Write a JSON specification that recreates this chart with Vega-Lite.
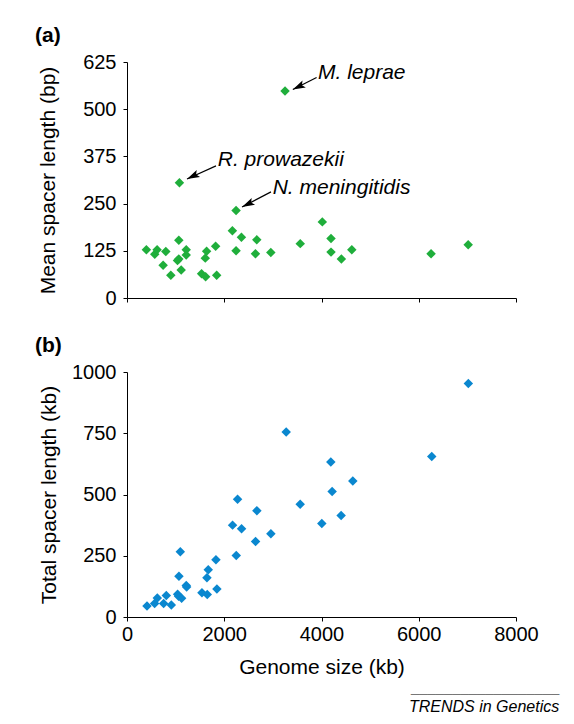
{
  "$schema": "https://vega.github.io/schema/vega-lite/v6.json",
  "background": "white",
  "padding": {"left": 35, "top": 25, "right": 5, "bottom": 5},
  "config": {
    "font": "Liberation Sans",
    "view": {"stroke": null},
    "axis": {"domainColor": "black", "tickColor": "black", "labelColor": "black", "titleColor": "black", "labelFont": "Liberation Sans", "titleFont": "Liberation Sans", "labelFontSize": 20, "titleFontSize": 21, "titleFontWeight": "normal", "tickSize": 4, "grid": false, "domainWidth": 1, "tickWidth": 1, "labelFlush": false, "format": "d"},
    "title": {"font": "Liberation Sans", "color": "black"}
  },
  "datasets": {
    "spacerMean": [
      {"genome": 399, "mean": 127.6}, {"genome": 571, "mean": 116}, {"genome": 619, "mean": 127.6}, {"genome": 743, "mean": 87}, {"genome": 798, "mean": 123}, {"genome": 901, "mean": 60},
      {"genome": 1039, "mean": 99}, {"genome": 1066, "mean": 153}, {"genome": 1066, "mean": 103}, {"genome": 1078, "mean": 305}, {"genome": 1114, "mean": 74},
      {"genome": 1218, "mean": 127.6}, {"genome": 1218, "mean": 113.6}, {"genome": 1534, "mean": 64}, {"genome": 1617, "mean": 56}, {"genome": 1610, "mean": 105.6},
      {"genome": 1637, "mean": 124}, {"genome": 1823, "mean": 137}, {"genome": 1844, "mean": 60}, {"genome": 2167, "mean": 178}, {"genome": 2243, "mean": 125},
      {"genome": 2243, "mean": 231.5}, {"genome": 2353, "mean": 161}, {"genome": 2669, "mean": 154}, {"genome": 2642, "mean": 117}, {"genome": 2958, "mean": 120.6},
      {"genome": 3250, "mean": 548}, {"genome": 3563, "mean": 144}, {"genome": 4017, "mean": 201.6}, {"genome": 4196, "mean": 157.6}, {"genome": 4196, "mean": 121.5},
      {"genome": 4409, "mean": 103}, {"genome": 4623, "mean": 127.6}, {"genome": 6253, "mean": 117}, {"genome": 7017, "mean": 141}
    ],
    "annotations": [
      {"label": "M. leprae", "tailX": 3899, "tailY": 584, "tipX": 3410, "tipY": 552, "textX": 3928, "textY": 581},
      {"label": "R. prowazekii", "tailX": 1830, "tailY": 350, "tipX": 1234, "tipY": 315, "textX": 1867, "textY": 350},
      {"label": "N. meningitidis", "tailX": 2961, "tailY": 281, "tipX": 2365, "tipY": 241, "textX": 2996, "textY": 275}
    ],
    "spacerTotal": [
      {"genome": 411, "total": 45}, {"genome": 568, "total": 55}, {"genome": 623, "total": 78}, {"genome": 753, "total": 55}, {"genome": 808, "total": 88}, {"genome": 911, "total": 49},
      {"genome": 1041, "total": 93}, {"genome": 1060, "total": 85}, {"genome": 1068, "total": 166}, {"genome": 1096, "total": 266}, {"genome": 1123, "total": 77},
      {"genome": 1219, "total": 129}, {"genome": 1226, "total": 122}, {"genome": 1541, "total": 99}, {"genome": 1651, "total": 92}, {"genome": 1644, "total": 160},
      {"genome": 1671, "total": 193}, {"genome": 1829, "total": 234}, {"genome": 1849, "total": 114}, {"genome": 2171, "total": 375}, {"genome": 2247, "total": 251},
      {"genome": 2274, "total": 481}, {"genome": 2356, "total": 360}, {"genome": 2644, "total": 308}, {"genome": 2671, "total": 434}, {"genome": 2959, "total": 340},
      {"genome": 3274, "total": 755}, {"genome": 3562, "total": 460}, {"genome": 4007, "total": 382}, {"genome": 4192, "total": 633}, {"genome": 4219, "total": 512},
      {"genome": 4404, "total": 414}, {"genome": 4644, "total": 555}, {"genome": 6267, "total": 655}, {"genome": 7020, "total": 953}
    ]
  },
  "title": {"text": "__________________", "subtitle": "TRENDS in Genetics", "orient": "bottom", "anchor": "end", "frame": "bounds", "fontSize": 14.8, "fontWeight": "normal", "color": "#777777", "subtitleFont": "Liberation Sans", "subtitleFontSize": 16, "subtitleFontStyle": "italic", "subtitleColor": "black", "dx": 21, "offset": 3, "subtitlePadding": 4},
  "spacing": 27,
  "vconcat": [
    {
      "width": 389,
      "height": 236,
      "title": {"text": "(a)", "anchor": "start", "frame": "group", "dx": -92, "fontSize": 21, "fontWeight": "bold", "offset": 6},
      "layer": [
        {
          "data": {"name": "spacerMean"},
          "mark": {"type": "point", "shape": "diamond", "filled": true, "size": 90, "color": "#1fae3b", "opacity": 1},
          "encoding": {
            "x": {"field": "genome", "type": "quantitative", "scale": {"domain": [0, 8000], "nice": false}, "axis": {"values": [0, 2000, 4000, 6000, 8000], "labels": false, "title": null}},
            "y": {"field": "mean", "type": "quantitative", "scale": {"domain": [0, 625], "nice": false}, "axis": {"values": [0, 125, 250, 375, 500, 625], "title": "Mean spacer length (bp)", "labelPadding": 7, "titlePadding": 24}}
          }
        },
        {
          "data": {"name": "annotations"},
          "mark": {"type": "rule", "color": "black", "strokeWidth": 1.2},
          "encoding": {
            "x": {"field": "tailX", "type": "quantitative"},
            "y": {"field": "tailY", "type": "quantitative"},
            "x2": {"field": "tipX"},
            "y2": {"field": "tipY"}
          }
        },
        {
          "data": {"name": "annotations"},
          "mark": {"type": "point", "shape": "M0,0L0.6,2L0,1.6L-0.6,2Z", "filled": true, "color": "black", "size": 160, "angle": 244, "opacity": 1},
          "encoding": {
            "x": {"field": "tipX", "type": "quantitative"},
            "y": {"field": "tipY", "type": "quantitative"}
          }
        },
        {
          "data": {"name": "annotations"},
          "mark": {"type": "text", "align": "left", "baseline": "alphabetic", "fontSize": 21, "fontStyle": "italic", "color": "black"},
          "encoding": {
            "x": {"field": "textX", "type": "quantitative"},
            "y": {"field": "textY", "type": "quantitative"},
            "text": {"field": "label"}
          }
        }
      ]
    },
    {
      "width": 389,
      "height": 245,
      "title": {"text": "(b)", "anchor": "start", "frame": "group", "dx": -92, "fontSize": 21, "fontWeight": "bold", "offset": 6},
      "data": {"name": "spacerTotal"},
      "mark": {"type": "point", "shape": "diamond", "filled": true, "size": 90, "color": "#0a87cf", "opacity": 1},
      "encoding": {
        "x": {"field": "genome", "type": "quantitative", "scale": {"domain": [0, 8000], "nice": false}, "axis": {"values": [0, 2000, 4000, 6000, 8000], "title": "Genome size (kb)", "labelPadding": 3, "titlePadding": 12}},
        "y": {"field": "total", "type": "quantitative", "scale": {"domain": [0, 1000], "nice": false}, "axis": {"values": [0, 250, 500, 750, 1000], "title": "Total spacer length (kb)", "labelPadding": 7, "titlePadding": 12}}
      }
    }
  ]
}
